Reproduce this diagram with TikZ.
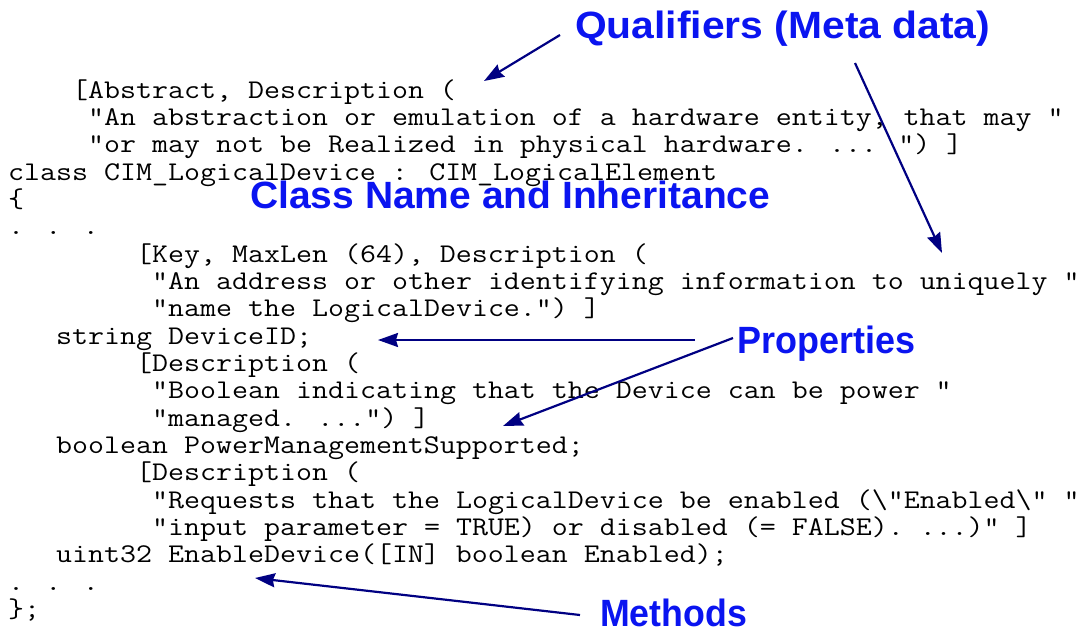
\documentclass[tikz,border=0pt]{standalone}
\usepackage{fontspec}
\usetikzlibrary{arrows.meta}
\newfontfamily\labelfont{Liberation Sans}
% slab-serif typewriter face, widened to 16pt per character at 27pt
\newfontfamily\codefont[FakeStretch=1.15]{Latin Modern Mono}
\definecolor{labelblue}{RGB}{10,20,240}
\definecolor{arrownavy}{RGB}{0,0,130}
\begin{document}
\begin{tikzpicture}[x=1pt,y=-1pt,
  code/.style={anchor=base west,inner sep=0pt,text=black,
    font=\codefont\fontsize{27}{27.35}\selectfont},
  lbl/.style={anchor=base west,inner sep=0pt,text=labelblue,
    font=\labelfont\bfseries\fontsize{38}{42}\selectfont},
  pointer/.style={draw=arrownavy,line width=2.2pt,
    -{Stealth[length=20pt,width=14pt,inset=2pt]}}]
\useasboundingbox (0,0) rectangle (1084,633);

% MOF source of CIM_LogicalDevice (16pt per character, 27.35pt per line)
\node[code] (l1)  at (72,98)      {[Abstract, Description (};
\node[code] (l2)  at (88,125.35)  {"An abstraction or emulation of a hardware entity, that may "};
\node[code] (l3)  at (88,152.7)   {"or may not be Realized in physical hardware. ... ") ]};
\node[code] (l4)  at (8,180.05)   {class CIM\_LogicalDevice : CIM\_LogicalElement};
\node[code] (l5)  at (8,207.4)    {\{};
\node[code] (l6)  at (8,234.75)   {. . .};
\node[code] (l7)  at (136,262.1)  {[Key, MaxLen (64), Description (};
\node[code] (l8)  at (152,289.45) {"An address or other identifying information to uniquely "};
\node[code] (l9)  at (152,316.8)  {"name the LogicalDevice.") ]};
\node[code] (l10) at (56,344.15)  {string DeviceID;};
\node[code] (l11) at (136,371.5)  {[Description (};
\node[code] (l12) at (152,398.85) {"Boolean indicating that the Device can be power "};
\node[code] (l13) at (152,426.2)  {"managed. ...") ]};
\node[code] (l14) at (56,453.55)  {boolean PowerManagementSupported;};
\node[code] (l15) at (136,480.9)  {[Description (};
\node[code] (l16) at (152,508.25) {"Requests that the LogicalDevice be enabled (\textbackslash"Enabled\textbackslash" "};
\node[code] (l17) at (152,535.6)  {"input parameter = TRUE) or disabled (= FALSE). ...)" ]};
\node[code] (l18) at (56,562.95)  {uint32 EnableDevice([IN] boolean Enabled);};
\node[code] (l19) at (8,590.3)    {. . .};
\node[code] (l20) at (8,617.65)   {\};};

% Callout labels
\node[lbl] (qual)  at (575,38)  {\scalebox{1.074}[1]{Qualifiers (Meta data)}};
\node[lbl] (cname) at (250,208) {\scalebox{1.026}[1]{Class Name and Inheritance}};
\node[lbl] (props) at (737,353) {\scalebox{0.946}[1]{Properties}};
\node[lbl] (meth)  at (600,626) {\scalebox{0.94}[1]{Methods}};

% Pointer ends
\coordinate (q1s) at (560,35);
\coordinate (q1t) at (484,81);
\coordinate (q2s) at (855,63);
\coordinate (q2t) at (942,253);
\coordinate (p1s) at (695,340);
\coordinate (p1t) at (378,340);
\coordinate (p2s) at (733,338);
\coordinate (p2t) at (503,426);
\coordinate (m1s) at (580,615);
\coordinate (m1t) at (255,578);

\draw[pointer] (q1s) -- (q1t);
\draw[pointer] (q2s) -- (q2t);
\draw[pointer] (p1s) -- (p1t);
\draw[pointer] (p2s) -- (p2t);
\draw[pointer] (m1s) -- (m1t);
\end{tikzpicture}
\end{document}
